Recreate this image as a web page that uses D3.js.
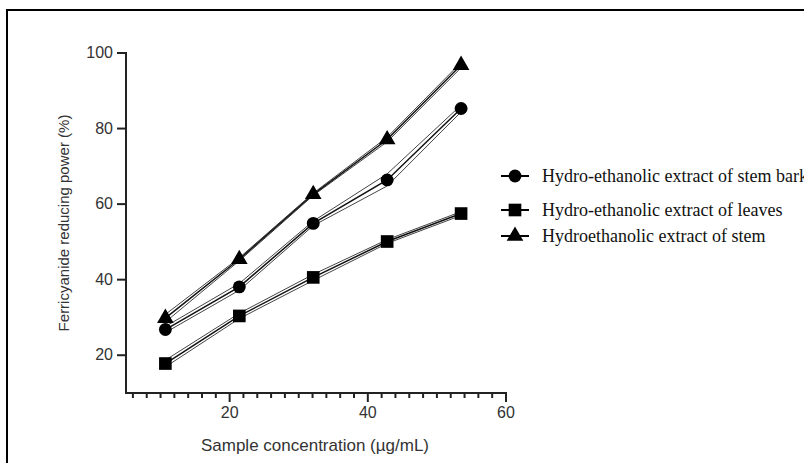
<!DOCTYPE html>
<html>
<head>
<meta charset="utf-8">
<script src="https://cdn.jsdelivr.net/npm/d3@7"></script>
<style>
  body { margin: 0; background: #fff; overflow: hidden; }
  svg { display: block; }
</style>
</head>
<body>
<script>
// data
var concentrations = [10.7, 21.4, 32.1, 42.8, 53.5];
var seriesNames = [
  "Hydro-ethanolic extract of stem bark",
  "Hydro-ethanolic extract of leaves",
  "Hydroethanolic extract of stem"
];
var stemBark = [26.8, 38.1, 54.9, 66.4, 85.3];
var stemBarkSd = [0.8, 0.9, 0.6, 1.6, 0.9];
var leaves = [17.8, 30.4, 40.6, 50.1, 57.5];
var leavesSd = [0.9, 0.7, 0.8, 0.5, 0.5];
var stem = [29.8, 45.4, 62.6, 77.1, 96.8];
var stemSd = [1.0, 0.4, 0.3, 0.6, 0.7];
var shapes = [d3.symbolCircle, d3.symbolSquare, d3.symbolTriangle];
var xTicks = [20, 40, 60];
var yTicks = [20, 40, 60, 80, 100];

var width = 804, height = 463;
var sans = "Liberation Sans, Arial, sans-serif";

var svg = d3.select("body").append("svg")
    .attr("width", width)
    .attr("height", height);

// outer frame (runs off the right and bottom edges)
svg.append("path")
    .attr("d", "M7,470 L7,10 L810,10")
    .attr("fill", "none")
    .attr("stroke", "#000")
    .attr("stroke-width", 2);

var x = d3.scaleLinear().domain([5, 60]).range([126, 506]);
var y = d3.scaleLinear().domain([10, 100]).range([393, 53]);

var series = [
  {name: seriesNames[0], values: stemBark, sd: stemBarkSd, shape: shapes[0], size: 130},
  {name: seriesNames[1], values: leaves, sd: leavesSd, shape: shapes[1], size: 160},
  {name: seriesNames[2], values: stem, sd: stemSd, shape: shapes[2], size: 120}
];

// axes
var xAxis = svg.append("g")
    .attr("transform", "translate(0," + y.range()[0] + ")")
    .call(d3.axisBottom(x).offset(0).tickValues(d3.range(6, 59, 2).filter(function(v) { return v % 20; }))
      .tickSize(5).tickFormat(""));
xAxis.append("g").call(d3.axisBottom(x).offset(0).tickValues(xTicks).tickSize(9).tickPadding(5).tickFormat(d3.format("d")));
xAxis.selectAll(".domain").remove();
xAxis.append("path")
    .attr("d", "M" + (x.range()[0] - 1) + ",0H" + (x.range()[1] + 1))
    .attr("stroke", "#222").attr("stroke-width", 2);

var yAxis = svg.append("g")
    .attr("transform", "translate(" + x.range()[0] + ",0)")
    .call(d3.axisLeft(y).offset(0).tickValues(yTicks).tickSize(9).tickPadding(4).tickSizeOuter(0));
yAxis.select(".domain").remove();
yAxis.append("path")
    .attr("d", "M0," + (y.range()[0] + 1) + "V" + (y.range()[1] - 1))
    .attr("stroke", "#222").attr("stroke-width", 2);

svg.selectAll(".tick line").attr("stroke", "#222").attr("stroke-width", 2);
svg.selectAll(".tick text")
    .attr("font-family", sans)
    .attr("font-size", 16)
    .attr("fill", "#333");

// axis titles
svg.append("text")
    .attr("transform", "translate(69,223) rotate(-90)")
    .attr("text-anchor", "middle")
    .attr("font-family", sans)
    .attr("font-size", 15)
    .attr("fill", "#333")
    .text("Ferricyanide reducing power (%)");

svg.append("text")
    .attr("x", 315)
    .attr("y", 451)
    .attr("text-anchor", "middle")
    .attr("font-family", sans)
    .attr("font-size", 17)
    .attr("fill", "#333")
    .text("Sample concentration (\u00b5g/mL)");

// lines: mean plus upper/lower replicate lines
var line = d3.line()
    .x(function(d) { return x(d[0]); })
    .y(function(d) { return y(d[1]); });

series.forEach(function(s) {
  var g = svg.append("g");
  [-1, 1].forEach(function(k) {
    g.append("path")
        .attr("d", line(concentrations.map(function(c, i) { return [c, s.values[i] + k * s.sd[i]]; })))
        .attr("fill", "none")
        .attr("stroke", "#444")
        .attr("stroke-width", 1);
  });
  g.append("path")
      .attr("d", line(concentrations.map(function(c, i) { return [c, s.values[i]]; })))
      .attr("fill", "none")
      .attr("stroke", "#111")
      .attr("stroke-width", 1.5);
  g.selectAll(".pt")
      .data(concentrations)
    .enter().append("path")
      .attr("transform", function(c, i) { return "translate(" + x(c) + "," + y(s.values[i]) + ")"; })
      .attr("d", d3.symbol().type(s.shape).size(s.size))
      .attr("fill", "#000");
});

// legend (first entry runs past the right edge, as in the original)
var legendY = [176, 210, 236];
var legend = svg.append("g")
    .attr("transform", "translate(501,0)");

var row = legend.selectAll(".row")
    .data(series)
  .enter().append("g")
    .attr("transform", function(d, i) { return "translate(0," + legendY[i] + ")"; });

row.append("line")
    .attr("x1", 0).attr("x2", 28)
    .attr("stroke", "#000").attr("stroke-width", 2);
row.append("path")
    .attr("transform", "translate(14,0)")
    .attr("d", function(d) { return d3.symbol().type(d.shape).size(d.size)(); })
    .attr("fill", "#000");
row.append("text")
    .attr("x", 41)
    .attr("dy", "0.33em")
    .attr("font-family", "Liberation Serif, Times New Roman, serif")
    .attr("font-size", 18)
    .attr("fill", "#111")
    .text(function(d) { return d.name; });
</script>
</body>
</html>
